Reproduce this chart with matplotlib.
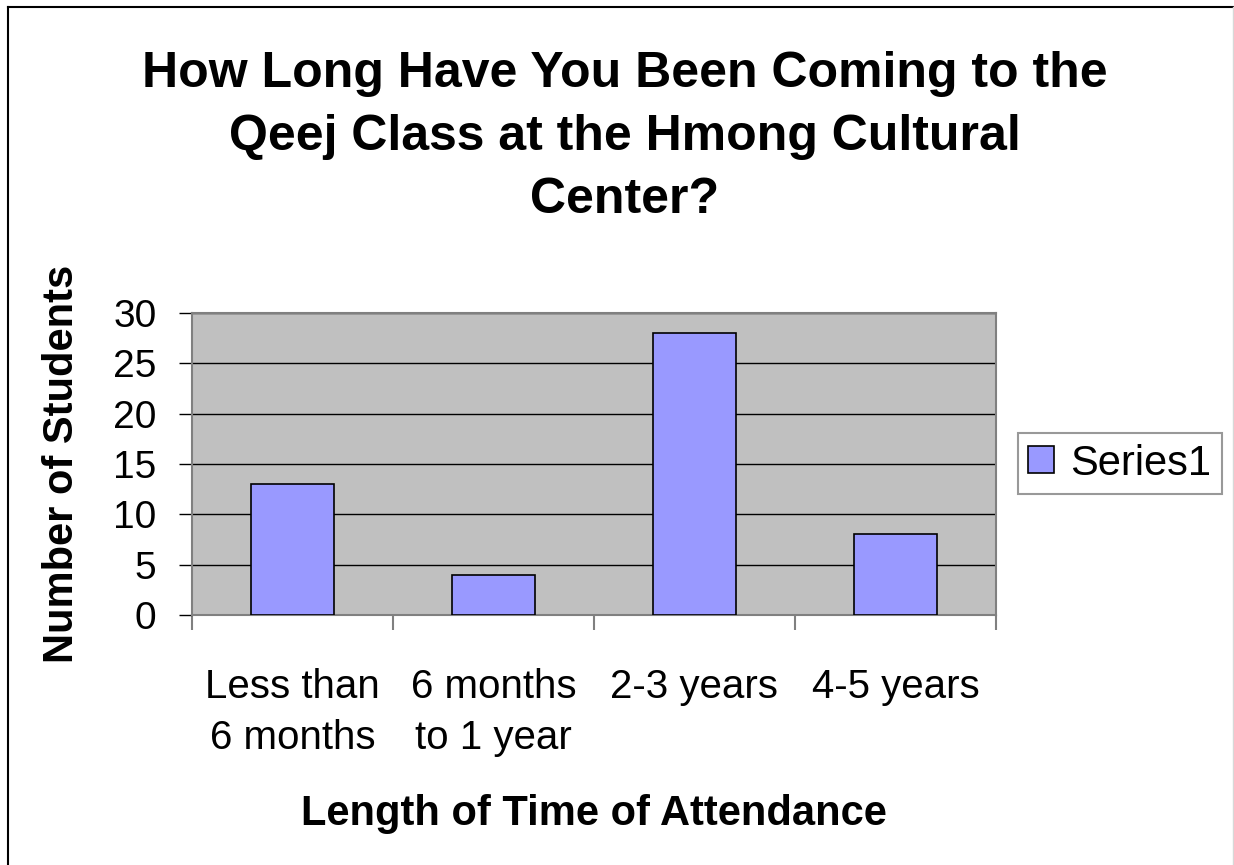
import matplotlib
matplotlib.use("Agg")
import matplotlib.pyplot as plt
from matplotlib.lines import Line2D

plt.rcParams["font.family"] = ["Liberation Sans", "DejaVu Sans"]

# data
categories = ["Less than\n6 months", "6 months\nto 1 year", "2-3 years", "4-5 years"]
students = [13, 4, 28, 8]
series_name = "Series1"

title_lines = ["How Long Have You Been Coming to the",
               "Qeej Class at the Hmong Cultural",
               "Center?"]
yticks = [0, 5, 10, 15, 20, 25, 30]

BAR = "#9999FF"
PLOT_BG = "#C0C0C0"
GRAY = "#808080"

W, H = 1234, 865
fig = plt.figure(figsize=(W / 100, H / 100), dpi=100)
ax = fig.add_axes([192 / W, 1 - 615 / H, (996 - 192) / W, (615 - 313) / H])
ax.set_facecolor(PLOT_BG)

x = list(range(len(categories)))
ax.bar(x, students, width=0.41, color=BAR, edgecolor="black", linewidth=1.2,
       zorder=3, label=series_name)

ax.set_xlim(-0.5, len(categories) - 0.5)
ax.set_ylim(0, 30)
ax.set_yticks(yticks)
ax.yaxis.grid(True, color="black", linewidth=1.0, zorder=1)
ax.set_axisbelow(True)

# category labels at centres, tick marks at the boundaries
ax.set_xticks(x)
ax.set_xticklabels(categories, fontsize=29, linespacing=1.45)
ax.tick_params(axis="x", length=0, pad=38)
ax.set_xticks([i - 0.5 for i in range(len(categories) + 1)], minor=True)
ax.tick_params(axis="x", which="minor", length=11, width=1.5, color=GRAY, direction="out")
ax.tick_params(axis="y", length=9.5, width=1.0, color="black", pad=16, labelsize=28)

for s in ax.spines.values():
    s.set_color(GRAY)
    s.set_linewidth(1.5)

# title, one line at a time so the baselines land where they should
for line, base in zip(title_lines, [87, 150, 213]):
    fig.text(625 / W, 1 - base / H, line, ha="center", va="baseline",
             fontsize=36, fontweight="bold")

fig.text(594 / W, 1 - 825 / H, "Length of Time of Attendance", ha="center",
         va="baseline", fontsize=30, fontweight="bold")
fig.text(62 / W, 1 - 464 / H, "Number of Students", ha="center", va="center",
         rotation=90, fontsize=30, fontweight="bold")

leg = fig.legend(loc="center left", bbox_to_anchor=(1018 / W, 1 - 463.5 / H),
                 fontsize=30, frameon=True, fancybox=False, borderpad=0.25,
                 handlelength=0.62, handleheight=0.62, handletextpad=0.38,
                 borderaxespad=0)
leg.get_frame().set_edgecolor(GRAY)
leg.get_frame().set_linewidth(1.5)

# chart-area border: dark on the left and top, faint on the right
fig.add_artist(Line2D([8 / W, 8 / W], [0, 1 - 7 / H], color="black", lw=1.5))
fig.add_artist(Line2D([8 / W, 1233 / W], [1 - 7 / H, 1 - 7 / H], color="black", lw=1.5))
fig.add_artist(Line2D([1232.5 / W, 1232.5 / W], [0, 1 - 7 / H], color="#d8d8d8", lw=1.0))

fig.savefig("out.png", dpi=100)
